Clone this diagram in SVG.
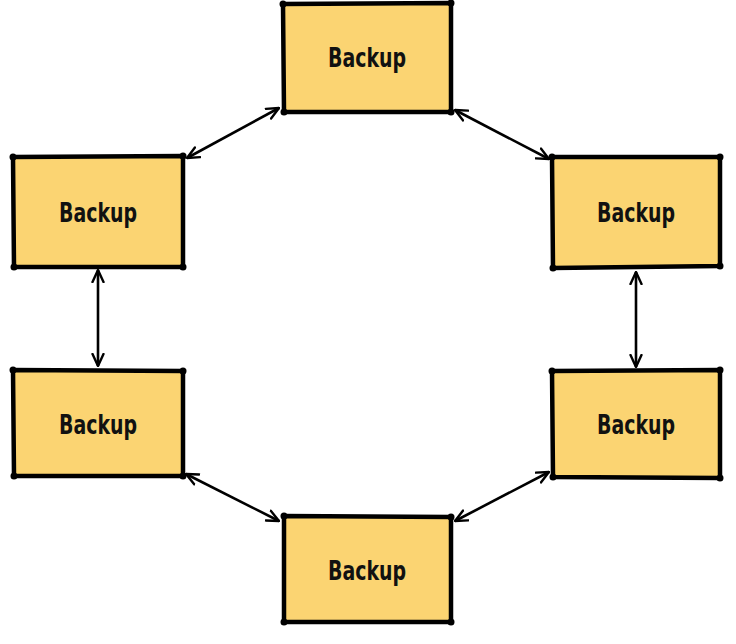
<svg xmlns="http://www.w3.org/2000/svg" width="736" height="644" viewBox="0 0 736 644">
<style>
.box{fill:#FBD472;stroke:#000;stroke-width:4.5;stroke-linejoin:round}
.dot{fill:#000}
.lbl{font-family:"DejaVu Sans Condensed","DejaVu Sans",sans-serif;font-weight:bold;font-size:27px;fill:#111;text-anchor:middle;dominant-baseline:central}
.conn{stroke:#000;stroke-width:2.6;fill:none;marker-start:url(#ah);marker-end:url(#ah)}
</style>
<defs>
<marker id="ah" viewBox="0 0 14 14" refX="13" refY="7" markerWidth="14" markerHeight="14" markerUnits="userSpaceOnUse" orient="auto-start-reverse">
<path d="M1,1.5 L13,7 L1,12.5" fill="none" stroke="#000" stroke-width="2.4" stroke-linecap="round" stroke-linejoin="round"/>
</marker>
</defs>
<g id="connectors">
<line class="conn" x1="187" y1="158" x2="279" y2="108"/>
<line class="conn" x1="455" y1="110" x2="549" y2="159"/>
<line class="conn" x1="98" y1="270" x2="98" y2="366"/>
<line class="conn" x1="636" y1="272" x2="636" y2="367"/>
<line class="conn" x1="186" y1="474" x2="279" y2="521"/>
<line class="conn" x1="455" y1="521" x2="549" y2="472"/>
</g>
<g id="node-top">
<polygon class="box" points="283,4 451,3 451,112 284,112"/>
<circle class="dot" cx="283" cy="4" r="3.5"/><circle class="dot" cx="451" cy="3" r="3.5"/><circle class="dot" cx="451" cy="112" r="3.5"/><circle class="dot" cx="284" cy="112" r="3.5"/>
<text class="lbl" x="367" y="57" textLength="78" lengthAdjust="spacingAndGlyphs">Backup</text>
</g>
<g id="node-left1">
<polygon class="box" points="13,157 183,156 183,267 14,267"/>
<circle class="dot" cx="13" cy="157" r="3.5"/><circle class="dot" cx="183" cy="156" r="3.5"/><circle class="dot" cx="183" cy="267" r="3.5"/><circle class="dot" cx="14" cy="267" r="3.5"/>
<text class="lbl" x="98" y="212" textLength="78" lengthAdjust="spacingAndGlyphs">Backup</text>
</g>
<g id="node-right1">
<polygon class="box" points="552,157 720,157 720,266 553,268"/>
<circle class="dot" cx="552" cy="157" r="3.5"/><circle class="dot" cx="720" cy="157" r="3.5"/><circle class="dot" cx="720" cy="266" r="3.5"/><circle class="dot" cx="553" cy="268" r="3.5"/>
<text class="lbl" x="636" y="212" textLength="78" lengthAdjust="spacingAndGlyphs">Backup</text>
</g>
<g id="node-left2">
<polygon class="box" points="13,370 183,371 183,476 14,476"/>
<circle class="dot" cx="13" cy="370" r="3.5"/><circle class="dot" cx="183" cy="371" r="3.5"/><circle class="dot" cx="183" cy="476" r="3.5"/><circle class="dot" cx="14" cy="476" r="3.5"/>
<text class="lbl" x="98" y="424" textLength="78" lengthAdjust="spacingAndGlyphs">Backup</text>
</g>
<g id="node-right2">
<polygon class="box" points="552,371 720,370 720,478 553,477"/>
<circle class="dot" cx="552" cy="371" r="3.5"/><circle class="dot" cx="720" cy="370" r="3.5"/><circle class="dot" cx="720" cy="478" r="3.5"/><circle class="dot" cx="553" cy="477" r="3.5"/>
<text class="lbl" x="636" y="424" textLength="78" lengthAdjust="spacingAndGlyphs">Backup</text>
</g>
<g id="node-bottom">
<polygon class="box" points="284,516 451,517 451,622 284,622"/>
<circle class="dot" cx="284" cy="516" r="3.5"/><circle class="dot" cx="451" cy="517" r="3.5"/><circle class="dot" cx="451" cy="622" r="3.5"/><circle class="dot" cx="284" cy="622" r="3.5"/>
<text class="lbl" x="367" y="570" textLength="78" lengthAdjust="spacingAndGlyphs">Backup</text>
</g>
</svg>
